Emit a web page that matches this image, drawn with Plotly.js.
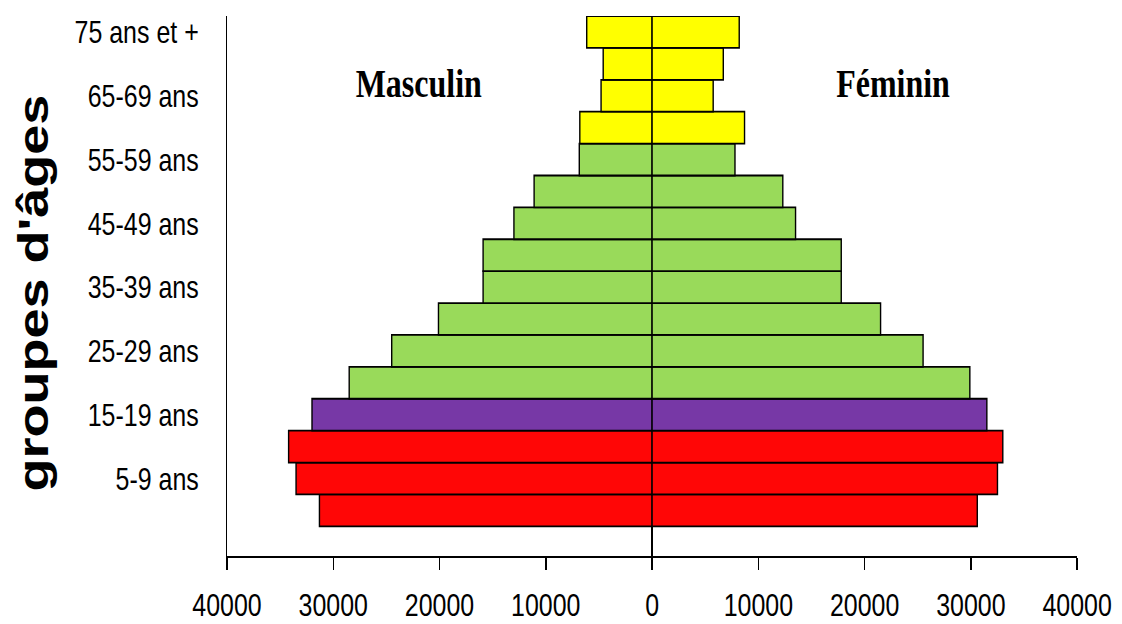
<!DOCTYPE html>
<html>
<head>
<meta charset="utf-8">
<script src="https://cdn.plot.ly/plotly-3.0.1.min.js"></script>
<style>
html,body{margin:0;padding:0;background:#fff;overflow:hidden;}
#wrap{width:1122px;height:624px;overflow:hidden;}
#chart{width:1438px;height:624px;transform:scaleX(0.78);transform-origin:0 0;}
</style>
</head>
<body>
<div id="wrap"><div id="chart"></div></div>
<script>
// Age groups, bottom (youngest) to top (oldest)
const categories = ['0-4 ans','5-9 ans','10-14 ans','15-19 ans','20-24 ans','25-29 ans','30-34 ans','35-39 ans','40-44 ans','45-49 ans','50-54 ans','55-59 ans','60-64 ans','65-69 ans','70-74 ans','75 ans et +'];
const masculin = [31300, 33500, 34200, 32000, 28500, 24500, 20100, 15900, 15900, 13000, 11100, 6850, 6800, 4800, 4600, 6150];
const feminin  = [30600, 32500, 33000, 31500, 29900, 25500, 21500, 17800, 17800, 13500, 12300, 7800, 8700, 5750, 6700, 8200];
const barColors = ['#FF0606','#FF0606','#FF0606','#7738A6','#99DA5A','#99DA5A','#99DA5A','#99DA5A','#99DA5A','#99DA5A','#99DA5A','#99DA5A','#FFFF00','#FFFF00','#FFFF00','#FFFF00'];
const yTickLabels = ['5-9 ans','15-19 ans','25-29 ans','35-39 ans','45-49 ans','55-59 ans','65-69 ans','75 ans et +'];
const xTickVals = [-40000,-30000,-20000,-10000,0,10000,20000,30000,40000];
const xTickText = ['40000','30000','20000','10000','0','10000','20000','30000','40000'];
const yTitle = "groupes d'âges";

const sans = '"Liberation Sans", Arial, sans-serif';
const serif = '"Liberation Serif", "Times New Roman", serif';

const traces = [
  {
    type: 'bar', orientation: 'h', name: 'Masculin',
    y: categories, x: masculin.map(v => -v),
    marker: {color: barColors, line: {color: '#000', width: 1.8}},
    hoverinfo: 'skip'
  },
  {
    type: 'bar', orientation: 'h', name: 'Féminin',
    y: categories, x: feminin,
    marker: {color: barColors, line: {color: '#000', width: 1.8}},
    hoverinfo: 'skip'
  }
];

const layout = {
  width: 1438, height: 624,
  margin: {l: 291, r: 57, t: 16, b: 68},
  paper_bgcolor: '#fff', plot_bgcolor: '#fff',
  showlegend: false,
  barmode: 'relative',
  bargap: 0,
  xaxis: {
    range: [-40000, 40000],
    tickvals: xTickVals, ticktext: xTickText,
    ticks: 'outside', ticklen: 12, tickwidth: 1.8, tickcolor: '#000',
    showline: true, linecolor: '#000', linewidth: 1.8,
    showgrid: false,
    zeroline: true, zerolinecolor: '#000', zerolinewidth: 1.8,
    tickfont: {family: sans, size: 32, color: '#000'},
    ticklabelstandoff: 8,
    fixedrange: true
  },
  yaxis: {
    type: 'category',
    categoryorder: 'array', categoryarray: categories,
    range: [-1.43, 15.5],
    tickvals: yTickLabels, ticktext: yTickLabels,
    ticks: '',
    showline: true, linecolor: '#000', linewidth: 1.8,
    showgrid: false, zeroline: false,
    tickfont: {family: sans, size: 32, color: '#000'},
    ticklabelstandoff: 28,
    automargin: false,
    fixedrange: true
  },
  annotations: [
    {text: '<b>' + yTitle + '</b>', xref: 'paper', yref: 'paper', x: -0.228, y: 0.487,
     xanchor: 'center', yanchor: 'middle', textangle: -90, showarrow: false,
     font: {family: sans, size: 54, color: '#000'}},
    {text: '<b>Masculin</b>', xref: 'paper', yref: 'paper', x: 0.226, y: 0.876,
     xanchor: 'center', yanchor: 'middle', showarrow: false,
     font: {family: serif, size: 41, color: '#000'}},
    {text: '<b>Féminin</b>', xref: 'paper', yref: 'paper', x: 0.7835, y: 0.876,
     xanchor: 'center', yanchor: 'middle', showarrow: false,
     font: {family: serif, size: 41, color: '#000'}}
  ]
};

Plotly.newPlot('chart', traces, layout, {displayModeBar: false, staticPlot: true});
</script>
</body>
</html>
